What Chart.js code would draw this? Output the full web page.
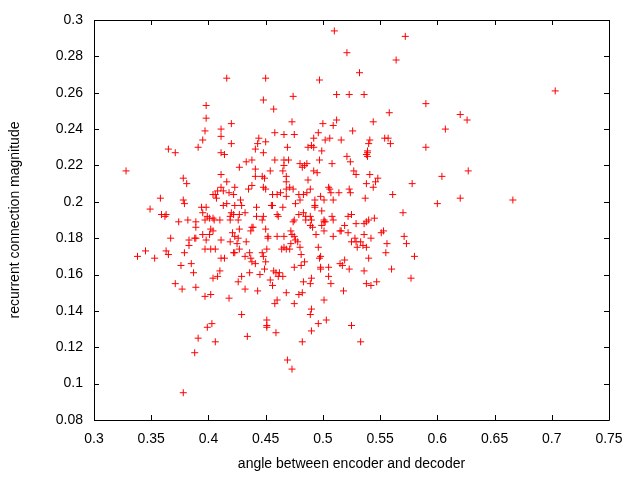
<!DOCTYPE html>
<html>
<head>
<meta charset="utf-8">
<script src="https://cdn.jsdelivr.net/npm/chart.js@4/dist/chart.umd.min.js"></script>
<style>
  html, body { margin: 0; padding: 0; background: #fff; }
  #plot { display: block; }
</style>
</head>
<body>
<canvas id="plot" width="640" height="480"></canvas>
<script>
// values
const xAngle = [
  0.398,0.398,0.397,0.411,0.411,0.395,0.391,0.365,0.371,0.411,0.328,0.378,0.381,0.411,0.411,0.413,0.408,0.406,0.404,0.407,
  0.358,0.378,0.379,0.413,0.349,0.394,0.398,0.359,0.363,0.362,0.395,0.399,0.374,0.382,0.389,0.389,0.397,0.401,0.404,0.405,
  0.410,0.402,0.404,0.395,0.401,0.388,0.389,0.367,0.383,0.383,0.398,0.411,0.345,0.363,0.365,0.338,0.353,0.379,0.397,0.402,
  0.406,0.411,0.376,0.385,0.387,0.410,0.408,0.404,0.371,0.377,0.389,0.397,0.402,0.403,0.399,0.391,0.406,0.388,0.378,
  0.510,0.521,0.416,0.450,0.497,0.448,0.474,0.457,0.512,0.523,0.420,0.473,0.500,0.509,0.512,0.526,0.420,0.444,0.458,0.466,
  0.475,0.496,0.492,0.502,0.506,0.516,0.443,0.450,0.441,0.448,0.469,0.487,0.490,0.492,0.499,0.414,0.433,0.438,0.458,0.466,
  0.470,0.466,0.427,0.441,0.480,0.482,0.484,0.486,0.497,0.508,0.521,0.524,0.465,0.454,0.492,0.495,0.527,0.416,0.441,0.447,
  0.449,0.468,0.468,0.423,0.435,0.438,0.448,0.450,0.487,0.418,0.422,0.428,0.456,0.460,0.463,0.468,0.471,0.474,0.468,0.479,
  0.483,0.486,0.489,0.505,0.506,0.498,0.507,0.514,0.523,0.524,0.416,0.423,0.429,0.442,0.455,0.456,0.465,0.476,0.480,0.493,
  0.493,0.493,0.501,0.509,0.499,0.420,0.419,0.422,0.427,0.432,0.442,0.448,0.460,0.461,0.479,0.483,0.485,0.489,0.508,0.522,
  0.525,0.419,0.426,0.447,0.474,0.475,0.485,0.490,0.489,0.491,0.501,0.502,0.499,0.501,0.501,0.509,0.519,0.516,0.522,0.421,
  0.423,0.419,0.426,0.427,0.425,0.422,0.437,0.438,0.439,0.450,0.452,0.452,0.460,0.466,0.472,0.473,0.475,0.476,0.478,0.472,
  0.471,0.433,0.414,0.427,0.423,0.436,0.432,0.437,0.438,0.441,0.447,0.448,0.450,0.451,0.464,0.466,0.468,0.480,0.481,0.484,
  0.481,0.475,0.494,0.496,0.509,0.515,0.525,0.528,0.498,0.497,0.498,0.498,0.505,0.515,0.517,0.519,0.523,0.449,0.436,0.445,
  0.429,0.426,0.432,0.418,0.443,0.454,0.456,0.457,0.459,0.462,0.461,0.465,0.490,0.489,0.483,0.505,0.507,0.468,0.479,0.482,
  0.460,0.458,0.475,0.501,0.518,0.490,0.489,0.429,0.451,0.451,0.451,0.459,0.434,0.496,0.503,0.490,0.525,0.482,0.469,0.473,
  0.572,0.564,0.532,0.536,0.590,0.558,0.544,0.620,0.626,0.607,0.541,0.540,0.554,0.557,0.559,0.539,0.539,0.539,0.538,0.590,
  0.529,0.541,0.548,0.546,0.544,0.538,0.578,0.604,0.627,0.537,0.561,0.570,0.600,0.620,0.540,0.545,0.703,0.666,
  0.529,0.536,0.538,0.551,0.553,0.571,0.573,0.536,0.542,0.529,0.533,0.530,0.535,0.538,0.556,0.540,0.555,0.580,0.560,0.536,
  0.577,0.538,0.542,0.547,0.533
];
const yMagnitude = [
  0.253,0.246,0.239,0.240,0.236,0.234,0.230,0.229,0.227,0.227,0.217,0.213,0.210,0.215,0.208,0.206,0.206,0.204,0.204,0.202,
  0.202,0.201,0.199,0.198,0.196,0.197,0.197,0.193,0.193,0.192,0.194,0.192,0.189,0.190,0.189,0.186,0.190,0.191,0.191,0.190,
  0.190,0.185,0.184,0.182,0.182,0.180,0.180,0.180,0.179,0.176,0.179,0.179,0.173,0.173,0.171,0.170,0.169,0.172,0.174,0.174,
  0.174,0.169,0.165,0.166,0.161,0.162,0.159,0.158,0.155,0.152,0.153,0.148,0.149,0.133,0.131,0.125,0.123,0.117,0.095,
  0.294,0.282,0.268,0.268,0.267,0.256,0.258,0.251,0.259,0.259,0.243,0.244,0.243,0.242,0.245,0.239,0.232,0.235,0.238,0.237,
  0.237,0.238,0.235,0.234,0.235,0.234,0.232,0.233,0.229,0.227,0.230,0.230,0.231,0.230,0.228,0.226,0.222,0.223,0.223,0.223,
  0.223,0.220,0.219,0.218,0.221,0.219,0.220,0.221,0.223,0.221,0.225,0.222,0.217,0.217,0.217,0.216,0.217,0.211,0.214,0.214,
  0.213,0.214,0.211,0.208,0.207,0.209,0.208,0.207,0.212,0.205,0.204,0.201,0.204,0.204,0.205,0.207,0.208,0.207,0.203,0.204,
  0.204,0.205,0.207,0.208,0.207,0.203,0.205,0.205,0.207,0.205,0.199,0.198,0.198,0.197,0.198,0.198,0.197,0.199,0.201,0.201,
  0.198,0.197,0.201,0.201,0.195,0.194,0.192,0.193,0.193,0.194,0.192,0.192,0.193,0.192,0.193,0.194,0.192,0.192,0.192,0.192,
  0.193,0.190,0.190,0.190,0.189,0.190,0.190,0.190,0.187,0.186,0.189,0.189,0.187,0.184,0.190,0.190,0.187,0.184,0.183,0.183,
  0.181,0.178,0.180,0.185,0.177,0.172,0.184,0.186,0.186,0.185,0.181,0.180,0.181,0.181,0.184,0.182,0.181,0.179,0.178,0.177,
  0.174,0.178,0.169,0.174,0.172,0.172,0.170,0.169,0.167,0.166,0.172,0.170,0.167,0.174,0.174,0.175,0.174,0.175,0.171,0.167,
  0.165,0.164,0.182,0.175,0.181,0.184,0.178,0.180,0.170,0.169,0.164,0.163,0.164,0.166,0.165,0.168,0.163,0.163,0.161,0.160,
  0.159,0.156,0.152,0.147,0.151,0.157,0.154,0.162,0.161,0.161,0.159,0.159,0.158,0.155,0.156,0.159,0.155,0.150,0.149,0.150,
  0.146,0.144,0.144,0.146,0.151,0.141,0.138,0.138,0.135,0.132,0.131,0.128,0.126,0.133,0.135,0.129,0.132,0.123,0.113,0.108,
  0.291,0.278,0.271,0.259,0.254,0.249,0.244,0.248,0.245,0.240,0.234,0.232,0.235,0.235,0.232,0.228,0.227,0.225,0.226,0.230,
  0.215,0.215,0.213,0.211,0.208,0.210,0.210,0.214,0.217,0.202,0.204,0.194,0.199,0.202,0.190,0.191,0.261,0.201,
  0.188,0.188,0.189,0.183,0.184,0.181,0.177,0.182,0.180,0.178,0.178,0.175,0.176,0.175,0.177,0.169,0.172,0.170,0.163,0.162,
  0.158,0.155,0.154,0.156,0.123
];
const xTicks = [0.3, 0.35, 0.4, 0.45, 0.5, 0.55, 0.6, 0.65, 0.7, 0.75];
const yTicks = [0.08, 0.1, 0.12, 0.14, 0.16, 0.18, 0.2, 0.22, 0.24, 0.26, 0.28, 0.3];

const points = xAngle.map((x, i) => ({ x: x, y: yMagnitude[i] }));

// gnuplot-like frame: full border with inward ticks on all four sides
const framePlugin = {
  id: 'frame',
  afterDraw(chart) {
    const { ctx, chartArea: a, scales } = chart;
    const len = 5;
    ctx.save();
    ctx.strokeStyle = '#000';
    ctx.lineWidth = 1;
    ctx.beginPath();
    ctx.rect(Math.round(a.left) + 0.5, Math.round(a.top) + 0.5,
             Math.round(a.right - a.left), Math.round(a.bottom - a.top));
    xTicks.forEach(v => {
      const px = Math.round(scales.x.getPixelForValue(v)) + 0.5;
      ctx.moveTo(px, a.bottom); ctx.lineTo(px, a.bottom - len);
      ctx.moveTo(px, a.top); ctx.lineTo(px, a.top + len);
    });
    yTicks.forEach(v => {
      const py = Math.round(scales.y.getPixelForValue(v)) + 0.5;
      ctx.moveTo(a.left, py); ctx.lineTo(a.left + len, py);
      ctx.moveTo(a.right, py); ctx.lineTo(a.right - len, py);
    });
    ctx.stroke();
    ctx.restore();
  }
};

const font = { family: '"Liberation Sans", Arial, sans-serif', size: 14 };

new Chart(document.getElementById('plot'), {
  type: 'scatter',
  data: {
    datasets: [{
      data: points,
      pointStyle: 'cross',
      pointRadius: 3.5,
      pointBorderWidth: 1,
      borderColor: '#ff0000',
      backgroundColor: '#ff0000'
    }]
  },
  options: {
    responsive: false,
    animation: false,
    layout: { padding: { left: 0, right: 31, top: 20, bottom: 0 } },
    plugins: { legend: { display: false }, tooltip: { enabled: false } },
    scales: {
      x: {
        type: 'linear',
        min: 0.3, max: 0.75,
        afterBuildTicks: s => { s.ticks = xTicks.map(v => ({ value: v })); },
        afterFit: s => { s.height = 60; },
        grid: { display: false, drawTicks: false },
        border: { display: false },
        ticks: {
          color: '#000', font: font, padding: 11, maxRotation: 0,
          callback: v => String(+v.toFixed(2))
        },
        title: {
          display: true, text: 'angle between encoder and decoder',
          color: '#000', font: font, padding: { top: 4, bottom: 7 }
        }
      },
      y: {
        type: 'linear',
        min: 0.08, max: 0.3,
        afterBuildTicks: s => { s.ticks = yTicks.map(v => ({ value: v })); },
        afterFit: s => { s.width = 94; },
        grid: { display: false, drawTicks: false },
        border: { display: false },
        ticks: {
          color: '#000', font: font, padding: 11,
          callback: v => String(+v.toFixed(2))
        },
        title: {
          display: true, text: 'recurrent connection magnitude',
          color: '#000', font: font, padding: { top: 7, bottom: 0 }
        }
      }
    }
  },
  plugins: [framePlugin]
});
</script>
</body>
</html>
